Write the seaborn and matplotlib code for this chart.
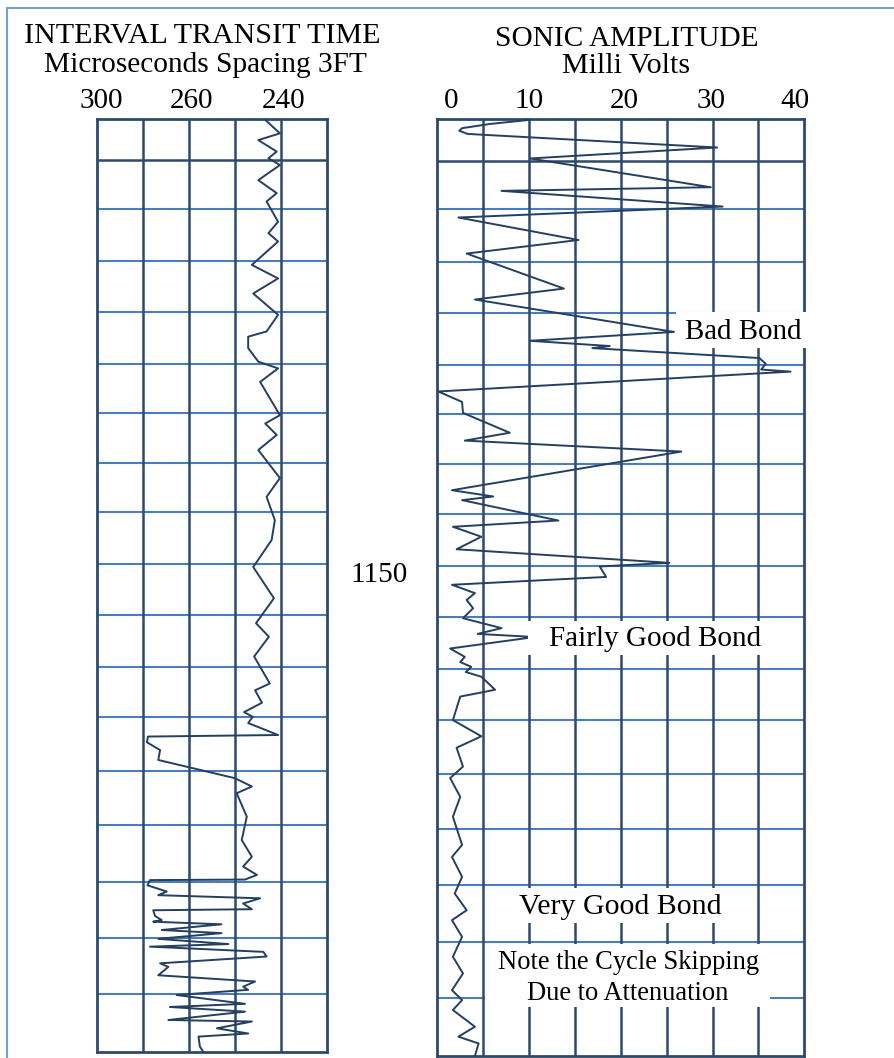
import numpy as np
import pandas as pd
import matplotlib
matplotlib.use("Agg")
import matplotlib.pyplot as plt
import matplotlib.transforms as mtransforms
from matplotlib.patches import Rectangle
from matplotlib.lines import Line2D
import seaborn as sns

# ---------------- data ----------------
# Interval transit time log (microseconds, 3 ft spacing) against depth (ft)
itt_depth = [1064.6, 1067.2, 1068.5, 1070.7, 1072.0, 1073.3, 1076.2, 1078.7, 1080.3, 1084.2,
             1086.4, 1088.0, 1092.5, 1095.1, 1098.0, 1102.1, 1105.3, 1106.3, 1108.5, 1111.1,
             1112.4, 1115.0, 1121.4, 1123.0, 1125.2, 1128.1, 1133.5, 1137.1, 1141.6, 1145.4,
             1150.6, 1156.6, 1161.4, 1164.0, 1167.8, 1173.0, 1174.3, 1176.7, 1178.5, 1179.4,
             1180.6, 1182.9, 1183.2, 1184.3, 1185.8, 1187.7, 1191.2, 1192.8, 1194.1, 1198.6,
             1203.1, 1206.3, 1208.2, 1209.8, 1210.7, 1210.8, 1211.8, 1213.0, 1213.7, 1214.3,
             1215.3, 1216.4, 1216.6, 1217.7, 1218.5, 1218.8, 1219.3, 1220.4, 1221.0, 1222.1,
             1223.1, 1223.6, 1224.6, 1225.5, 1226.8, 1227.5, 1229.1, 1230.3, 1231.3, 1231.9,
             1232.9, 1234.6, 1235.2, 1236.1, 1237.7, 1238.0, 1239.3, 1240.3, 1240.9, 1242.8,
             1243.8]
itt_value = [243.5, 240.3, 245.0, 241.0, 242.8, 240.3, 245.0, 241.0, 243.2, 240.7,
             242.8, 240.7, 246.4, 240.7, 246.1, 240.7, 243.2, 247.2, 247.2, 245.0,
             240.7, 244.6, 240.3, 243.5, 241.0, 245.0, 240.3, 243.2, 241.4, 242.1,
             246.1, 241.6, 245.5, 242.7, 245.9, 242.5, 245.7, 244.2, 248.1, 246.2,
             247.2, 240.7, 278.0, 278.4, 272.7, 273.5, 250.1, 246.4, 249.7, 247.5,
             248.6, 246.4, 248.3, 245.3, 247.9, 277.1, 278.2, 269.8, 273.5, 244.6,
             248.3, 246.4, 275.7, 274.9, 272.0, 275.7, 253.0, 272.0, 253.0, 273.5,
             251.5, 277.1, 243.9, 243.2, 272.7, 269.1, 273.5, 245.7, 248.3, 247.2,
             265.5, 247.9, 268.4, 247.9, 269.1, 246.4, 254.0, 247.2, 258.0, 257.7,
             257.0]

# Sonic amplitude log (millivolts) against depth (ft)
amp_depth = [1064.6, 1065.4, 1066.2, 1066.7, 1067.3, 1069.9, 1072.0, 1077.5, 1078.2, 1081.2,
             1083.3, 1087.6, 1090.2, 1096.9, 1099.0, 1105.2, 1106.9, 1107.9, 1108.3, 1110.2,
             1111.3, 1112.4, 1112.8, 1116.6, 1118.6, 1120.7, 1124.5, 1126.0, 1128.1, 1135.5,
             1136.7, 1137.4, 1141.3, 1142.5, 1144.4, 1146.8, 1149.4, 1150.1, 1152.1, 1153.6,
             1155.2, 1156.5, 1158.1, 1160.0, 1161.9, 1163.0, 1163.6, 1165.8, 1167.4, 1168.4,
             1169.3, 1170.3, 1171.2, 1173.7, 1175.0, 1179.5, 1182.6, 1184.8, 1188.4, 1190.6,
             1194.2, 1198.0, 1203.4, 1205.7, 1209.5, 1212.7, 1215.9, 1217.8, 1221.0, 1224.8,
             1228.0, 1231.2, 1233.1, 1235.0, 1238.2, 1240.1, 1241.4, 1243.8]
amp_value = [10.1, 5.7, 2.7, 2.4, 3.3, 30.5, 10.1, 29.8, 7.0, 31.1,
             2.3, 15.4, 3.2, 13.8, 4.1, 25.8, 10.1, 18.8, 16.9, 35.1,
             35.8, 35.3, 38.5, 0.1, 2.7, 2.8, 7.9, 3.0, 26.6, 1.6,
             6.1, 2.7, 13.2, 1.7, 4.8, 2.1, 25.3, 17.7, 18.4, 1.6,
             4.1, 3.2, 3.9, 2.8, 7.0, 4.4, 10.6, 1.4, 3.0, 2.5,
             3.7, 3.1, 4.8, 6.3, 2.5, 1.7, 4.8, 2.1, 2.8, 1.4,
             2.5, 1.7, 2.7, 1.6, 2.7, 1.9, 3.2, 1.6, 2.7, 1.7,
             2.8, 1.6, 2.7, 1.7, 4.1, 2.3, 4.5, 4.1]

# Depth window and chart grid (ft)
depth_top, depth_bottom = 1064.5, 1243.8
header_line_depth = 1072.4
grid_depths = [1081.7, 1091.8, 1101.5, 1111.5, 1121.0, 1130.5, 1140.1, 1150.0,
               1159.8, 1169.8, 1179.4, 1189.8, 1200.3, 1211.1, 1221.9, 1232.7]
depth_label = "1150"

# Track scales
itt_ticks = [300, 260, 240]
itt_track_lines = [280, 260, 250, 240]
itt_limits = (300, 230)
amp_ticks = [0, 10, 20, 30, 40]
amp_track_lines = [5, 10, 15, 20, 25, 30, 35]
amp_limits = (0, 40)

# Interpretation notes on the amplitude track: text, box (mV0, mV1, d0, d1), text anchor (mV, depth)
bond_notes = [
    ("Bad Bond", (26.0, 40.7, 1101.3, 1108.3), (33.4, 1106.6), 20.9),
    ("Fairly Good Bond", (9.9, 37.4, 1160.5, 1167.0), (23.7, 1165.3), 21.0),
    ("Very Good Bond", (5.2, 34.7, 1211.6, 1218.4), (19.9, 1216.6), 21.5),
    ("Note the Cycle Skipping", (5.2, 36.3, 1222.3, 1234.5), (20.8, 1227.2), 19.1),
    ("Due to Attenuation", None, (20.8, 1233.1), 19.1),
]

# ---------------- style ----------------
W, H = 895, 1058
DARK = "#2d4a6d"
BLUE = "#4a7dbd"
CURVE = "#243f60"
FRAME = "#7a9fd0"

sns.set_style("white")
plt.rcParams["font.family"] = ["Liberation Serif", "DejaVu Serif"]
plt.rcParams["text.color"] = "black"
plt.rcParams["xtick.color"] = "black"


def figpos(x, y):
    return x / W, 1 - y / H


# transit-time track: 20 us per division down to 260, then 10 us per division
def itt_forward(t):
    t = np.asarray(t, dtype=float)
    return np.where(t >= 260, (t - 300) / 20.0, (t - 260) / 10.0 - 2)


def itt_inverse(c):
    c = np.asarray(c, dtype=float)
    return np.where(c >= -2, 300 + 20.0 * c, 260 + 10.0 * (c + 2))


fig = plt.figure(figsize=(W / 100, H / 100), dpi=100)
fig.patch.set_facecolor("white")

ax_itt = fig.add_axes([97.3 / W, 1 - 1051.7 / H, 230 / W, 932.4 / H])
ax_amp = fig.add_axes([437.3 / W, 1 - 1056.0 / H, 367 / W, 936.7 / H])

ax_itt.set_xscale("function", functions=(itt_forward, itt_inverse))

for ax, lines in ((ax_itt, itt_track_lines), (ax_amp, amp_track_lines)):
    ax.set_facecolor("white")
    for d in grid_depths:
        ax.axhline(d, color=BLUE, lw=1.5, zorder=1)
    ax.axhline(header_line_depth, color=DARK, lw=1.8, zorder=2)
    for v in lines:
        ax.axvline(v, color=DARK, lw=1.8, zorder=2)
    for s in ax.spines.values():
        s.set_visible(True)
        s.set_color(DARK)
        s.set_linewidth(2.0)
        s.set_zorder(3)

sns.lineplot(x=itt_value, y=itt_depth, ax=ax_itt, sort=False, estimator=None,
             orient="y", color=CURVE, lw=1.4, zorder=4)
sns.lineplot(x=amp_value, y=amp_depth, ax=ax_amp, sort=False, estimator=None,
             orient="y", color=CURVE, lw=1.4, zorder=4)

ax_itt.set_xlim(*itt_limits)
ax_amp.set_xlim(*amp_limits)
for ax in (ax_itt, ax_amp):
    ax.set_ylim(depth_bottom, depth_top)
    ax.set_yticks([])
    ax.set_xlabel("")
    ax.set_ylabel("")
    ax.xaxis.tick_top()
    ax.tick_params(axis="x", which="both", length=0, pad=3.5, labelsize=21)
    ax.minorticks_off()

ax_itt.set_xticks(itt_ticks)
ax_itt.set_xticklabels([str(t) for t in itt_ticks])
ax_itt.xaxis.set_minor_locator(matplotlib.ticker.NullLocator())
ax_amp.set_xticks(amp_ticks)
ax_amp.set_xticklabels([str(t) for t in amp_ticks])


# small horizontal nudges of the tick labels (points)
def nudge(labels, shifts):
    for lab, dx in zip(labels, shifts):
        lab.set_transform(lab.get_transform() +
                          mtransforms.ScaledTranslation(dx / 72, 0, fig.dpi_scale_trans))


nudge(ax_itt.get_xticklabels(), [3, 1.5, 1.5])
nudge(ax_amp.get_xticklabels(), [10, 0, 2.5, -1, -6.5])

# interpretation boxes on the amplitude track
for text, box, (tx, ty), size in bond_notes:
    if box is not None:
        x0, x1, d0, d1 = box
        ax_amp.add_patch(Rectangle((x0, d0), x1 - x0, d1 - d0, facecolor="white",
                                   edgecolor="none", zorder=5, clip_on=False))
    ax_amp.text(tx, ty, text, ha="center", va="baseline", fontsize=size,
                zorder=6, clip_on=False)

# headers
fig.text(*figpos(202.5, 43.3), "INTERVAL TRANSIT TIME", ha="center", va="baseline", fontsize=21.6)
fig.text(*figpos(205, 71.7), "Microseconds Spacing 3FT", ha="center", va="baseline", fontsize=21.2)
fig.text(*figpos(626.7, 46), "SONIC AMPLITUDE", ha="center", va="baseline", fontsize=21.2)
fig.text(*figpos(625.8, 73.3), "Milli Volts", ha="center", va="baseline", fontsize=21.6)
fig.text(*figpos(350, 581.7), depth_label, ha="left", va="baseline", fontsize=21)

# page frame
fig.add_artist(Line2D([6.7 / W, 6.7 / W], [0, 1 - 8.3 / H], color=FRAME, lw=1.5))
fig.add_artist(Line2D([6.7 / W, 1], [1 - 8.3 / H, 1 - 8.3 / H], color=FRAME, lw=1.5))

fig.savefig("out.png", dpi=100, facecolor="white")
